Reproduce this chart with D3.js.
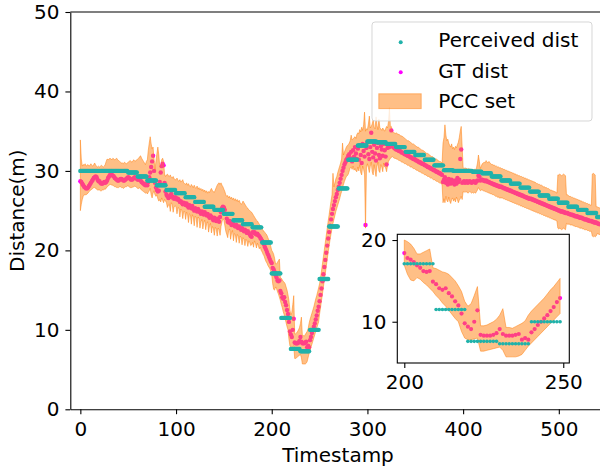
<!DOCTYPE html>
<html><head><meta charset="utf-8">
<script src="https://cdn.jsdelivr.net/npm/d3@7"></script>
<style>
body{margin:0;background:#fff}
svg{display:block}
text{font-family:"DejaVu Sans",sans-serif;fill:#000}
</style>
</head><body>
<svg id="c" width="600" height="468"></svg>
<script>
// Perceived distance: one value per block of 10 timestamps (0..549)
const perceivedSteps = [
30.0,30.0,30.0,30.0,30.0,29.8,29.3,28.8,28.2,27.6,
27.2,26.7,26.1,25.5,25.1,24.6,23.8,23.3,22.9,21.0,
17.1,11.5,7.6,7.3,10.0,16.4,23.0,27.8,31.4,33.2,
33.7,33.6,33.4,33.0,32.4,32.0,31.4,30.7,30.1,30.0,
30.0,29.9,29.7,29.3,28.8,28.4,27.9,27.4,26.9,26.5,
26.0,25.5,25.1,24.7,24.2];

// Ground-truth distance, one value per timestamp 0..549
const gtDist = [
28.7,28.6,28.4,28.2,28.0,27.9,27.8,27.8,27.9,28.1,
28.3,28.5,28.7,28.9,29.1,29.2,29.3,29.2,28.9,28.7,
28.7,28.5,28.4,28.4,28.5,28.6,28.5,28.6,28.8,29.1,
29.3,29.5,29.6,29.5,29.4,29.3,29.1,29.0,28.9,28.8,
28.8,28.9,29.0,29.0,28.9,28.8,28.8,28.9,29.0,29.1,
29.2,29.1,29.0,28.9,28.9,29.0,29.1,29.2,29.1,29.0,
28.9,28.9,29.0,28.8,28.6,28.5,28.4,28.3,28.2,28.4,
28.2,28.6,29.2,29.8,30.5,31.2,31.9,30.0,28.5,27.9,
27.6,27.4,27.5,28.6,29.8,30.6,30.9,30.7,28.5,27.4,
27.0,26.8,26.6,26.7,26.9,27.1,26.8,26.6,26.5,26.7,
26.6,26.4,26.5,26.3,26.1,26.2,26.0,25.8,26.0,25.9,
25.7,25.9,25.6,25.4,25.7,25.5,25.3,25.6,25.2,25.0,
25.3,25.1,24.9,25.2,25.0,24.8,24.6,24.9,24.7,24.5,
24.8,24.6,24.4,24.6,24.3,24.1,24.4,24.2,24.0,23.8,
24.1,23.9,23.7,24.0,23.8,23.6,24.2,24.8,25.3,25.5,
25.4,25.1,24.6,24.0,23.6,23.5,23.7,23.4,23.2,23.5,
23.3,23.1,23.0,23.2,23.0,22.8,23.0,22.8,22.6,22.8,
22.6,22.4,22.6,22.4,22.2,22.4,22.2,22.0,21.8,21.7,
22.3,22.2,22.3,22.1,22.0,22.1,21.9,21.8,21.6,21.4,
21.2,21.0,20.7,20.4,20.1,19.8,19.5,19.2,18.9,18.6,
18.4,17.8,17.6,17.3,16.9,16.6,16.2,16.1,16.2,14.9,
14.6,14.1,13.9,14.1,13.5,13.1,12.5,12.0,11.0,9.8,
9.4,9.1,10.0,11.4,8.4,8.3,8.3,8.3,8.4,8.6,
9.1,8.5,8.3,8.3,8.3,8.4,8.5,7.8,8.0,7.8,
8.7,9.1,9.6,10.0,10.4,10.8,11.3,11.8,12.4,12.9,
13.6,14.4,15.2,16.1,17.0,17.9,18.8,19.7,20.6,21.5,
22.3,23.1,23.9,24.6,25.2,25.7,26.2,26.7,27.1,27.6,
28.0,28.5,29.0,29.5,30.0,30.4,30.8,31.1,31.4,31.6,
31.9,32.1,31.6,32.4,31.2,32.6,31.8,33.0,32.2,31.5,
32.8,31.4,33.2,32.0,31.0,33.4,32.5,31.8,23.2,32.9,
33.6,32.1,31.5,33.0,34.8,32.4,31.7,33.3,32.2,31.3,
32.9,33.5,32.0,31.6,33.1,32.7,31.9,33.4,32.6,31.8,
30.8,32.9,33.2,33.0,33.3,35.1,33.1,33.0,32.9,32.8,
32.7,32.7,32.6,32.5,32.5,32.4,32.3,32.3,32.2,32.1,
32.1,32.0,31.9,31.9,31.8,31.7,31.7,31.6,31.5,31.5,
31.4,31.3,31.3,31.2,31.1,31.1,31.0,30.9,30.9,30.8,
30.7,30.7,30.6,30.5,30.5,30.4,30.3,30.3,30.2,30.1,
30.1,30.0,29.9,29.9,29.8,29.7,29.7,29.6,29.5,28.6,
28.9,29.2,28.5,28.8,28.3,29.0,28.6,28.4,28.9,28.5,
28.7,28.3,28.8,28.4,29.1,28.6,28.9,31.5,32.7,28.5,
28.6,28.7,28.5,28.6,28.7,28.5,28.6,28.7,28.6,28.5,
28.6,28.7,28.6,28.5,28.7,28.8,29.4,29.3,28.8,28.9,
28.9,28.8,28.8,28.7,28.8,28.7,28.6,28.6,28.5,28.5,
28.4,28.4,28.3,28.3,28.2,28.2,28.1,28.1,28.0,28.0,
28.0,27.9,27.9,27.8,27.8,27.7,27.7,27.6,27.6,27.5,
27.5,27.4,27.4,27.3,27.3,27.2,27.2,27.1,27.1,27.0,
27.0,26.9,26.9,26.8,26.8,26.7,26.7,26.6,26.6,26.5,
26.5,26.5,26.4,26.4,26.3,26.3,26.2,26.2,26.1,26.1,
26.0,26.0,25.9,25.9,25.8,25.8,25.7,25.7,25.6,25.6,
25.5,25.5,25.4,25.4,25.3,25.3,25.2,25.2,25.1,25.1,
25.0,25.0,24.9,24.9,24.9,24.8,24.8,24.7,24.7,24.7,
24.6,24.6,24.5,24.5,24.5,24.4,24.4,24.3,24.3,24.3,
24.2,24.2,24.1,24.1,24.1,24.0,24.0,23.9,23.9,23.9,
23.8,23.8,23.7,23.7,23.7,23.6,23.6,23.5,23.5,23.5,
23.4,23.4,23.3,23.3,23.3,23.2,23.2,23.1,23.1,23.1];

// PCC set upper bound, one value per timestamp 0..549
const pccHigh = [
33.9,31.5,30.6,30.8,30.7,30.9,30.6,30.7,30.8,30.6,
30.7,30.9,30.7,30.6,30.8,31.0,30.7,30.6,30.5,30.6,
30.5,30.6,30.7,30.6,30.5,30.6,30.8,31.2,31.5,31.4,
31.5,31.6,31.5,31.4,31.6,31.5,31.4,31.5,31.6,31.4,
31.3,31.2,31.1,31.0,31.0,30.9,31.1,31.0,30.9,31.0,
31.1,31.2,31.3,31.2,31.1,31.3,31.4,31.2,31.3,31.4,
31.5,31.6,31.8,31.9,31.6,31.4,31.2,31.0,30.8,31.2,
31.4,32.6,33.5,34.3,33.4,32.8,33.0,31.5,30.2,31.2,
32.2,33.0,32.0,30.5,30.6,31.4,31.6,31.2,29.6,29.3,
29.5,29.6,29.4,29.3,29.5,29.2,29.1,29.3,29.0,28.9,
28.9,29.1,28.8,28.7,28.9,28.6,28.7,28.9,28.5,28.4,
28.3,28.5,28.2,28.4,28.1,28.0,28.3,28.1,27.9,28.2,
27.9,27.8,28.1,27.7,27.9,27.6,27.8,27.5,27.7,27.4,
27.6,27.3,27.5,27.2,27.4,27.3,27.6,27.8,27.5,27.4,
27.3,27.6,27.9,28.2,28.4,28.5,28.3,28.5,28.2,28.0,
27.7,27.4,27.0,26.8,26.9,26.6,26.8,26.5,26.7,26.4,
26.6,26.3,26.5,26.2,26.4,26.1,26.3,26.0,25.8,25.9,
26.2,26.0,25.8,25.6,25.4,25.3,25.1,25.0,24.9,24.8,
24.6,24.4,24.2,24.0,23.8,23.7,23.5,23.3,23.1,22.9,
22.7,22.5,22.4,22.2,22.1,21.9,21.6,21.3,20.9,20.5,
20.0,19.8,19.5,19.0,18.3,18.3,18.5,18.7,18.9,16.6,
16.5,16.3,16.1,16.0,15.8,15.4,15.0,14.4,13.7,12.5,
11.9,12.2,13.2,14.3,9.5,9.5,9.6,9.8,10.0,10.3,
10.8,11.6,9.3,9.3,9.2,9.4,9.6,9.8,10.1,10.8,
11.3,11.7,12.1,12.5,12.9,13.4,13.9,14.3,14.8,15.3,
15.8,16.6,17.4,18.3,19.2,20.1,21.0,21.9,22.8,23.7,
24.5,25.4,26.2,27.0,29.7,28.0,28.5,29.0,29.3,29.8,
30.2,30.6,31.0,31.5,33.5,32.0,32.4,32.7,33.0,33.2,
33.3,33.5,33.8,34.5,33.9,34.0,34.2,34.3,34.1,34.6,
34.8,34.7,35.2,34.9,35.5,35.1,35.8,37.4,35.0,35.3,
35.2,35.9,36.9,35.4,35.6,35.9,36.4,35.5,35.3,36.8,
35.7,35.2,36.5,35.4,35.3,35.1,35.4,35.2,35.0,35.3,
35.6,35.4,36.2,38.0,35.5,35.6,35.0,34.9,34.8,34.7,
34.8,34.7,34.6,34.6,34.5,34.4,34.4,34.3,34.2,34.1,
34.0,33.9,33.8,33.8,33.7,33.6,33.5,33.4,33.4,33.3,
33.2,33.1,33.0,33.0,32.9,32.8,32.7,32.6,32.6,32.5,
32.4,32.3,32.2,32.2,32.1,32.0,31.9,31.8,31.8,31.7,
31.6,31.5,31.5,31.4,31.3,31.2,31.2,31.1,31.0,33.5,
34.2,35.8,34.5,33.8,34.0,33.5,33.2,33.0,33.4,32.8,
33.0,32.7,33.1,32.9,33.3,33.6,34.2,35.0,35.6,33.0,
30.4,30.3,30.4,30.3,30.3,30.2,30.3,30.2,30.2,30.1,
30.2,30.1,30.2,30.1,30.4,31.0,32.0,31.2,30.3,30.6,
30.9,31.0,31.1,31.0,31.3,31.1,31.0,31.2,31.0,30.9,
30.8,30.8,30.7,30.7,30.6,30.6,30.5,30.5,30.4,30.4,
30.3,30.3,30.2,30.2,30.1,30.1,30.0,30.0,29.9,29.9,
29.8,29.8,29.7,29.7,29.6,29.6,29.5,29.5,29.4,29.4,
29.3,29.3,29.2,29.2,29.1,29.1,29.0,29.0,28.9,28.9,
28.8,28.8,28.7,28.7,28.6,28.6,28.5,28.4,28.4,28.3,
28.3,28.2,28.2,28.1,28.0,28.0,27.9,27.9,27.8,27.8,
27.7,27.6,27.6,27.5,27.5,27.4,27.4,27.3,27.2,29.5,
29.5,29.6,29.5,29.4,29.5,29.6,29.5,29.4,27.0,27.0,
26.9,26.8,26.8,26.7,26.7,26.6,26.6,26.5,26.5,26.4,
26.4,26.3,26.3,26.2,26.2,26.1,26.1,26.0,26.0,25.9,
25.9,25.8,25.8,25.7,25.7,29.6,29.7,29.6,29.5,25.5,
25.5,25.4,25.4,25.3,25.3,25.2,25.2,25.1,25.1,25.0];

// PCC set lower bound, one value per timestamp 0..549
const pccLow = [
25.0,25.8,26.4,26.8,27.0,27.0,27.0,27.1,27.2,27.4,
27.5,27.6,27.7,27.8,27.9,27.9,27.8,27.7,27.6,27.6,
27.6,27.5,27.5,27.6,27.6,27.7,27.7,27.8,28.0,28.1,
28.2,28.3,28.3,28.2,28.2,28.1,28.0,28.0,27.9,27.9,
27.9,28.0,28.0,27.9,27.9,27.8,27.9,28.0,28.0,28.1,
28.1,28.0,27.9,27.9,27.9,28.0,28.0,28.1,28.0,27.9,
27.8,27.8,27.9,27.7,27.6,27.5,27.4,27.3,27.2,27.3,
27.1,27.3,27.5,27.8,27.0,26.6,27.2,27.5,27.0,26.8,
27.0,26.5,26.2,26.4,26.1,26.6,26.3,26.0,26.4,26.2,
26.0,25.4,25.7,25.8,24.9,26.0,25.8,24.8,25.5,25.6,
25.5,24.6,25.4,25.3,24.2,25.2,25.0,24.0,24.9,24.9,
23.9,24.8,24.6,23.5,24.6,24.5,23.3,24.5,24.2,23.1,
24.3,24.1,22.9,24.2,24.0,22.8,23.6,23.9,22.7,23.5,
23.8,22.6,23.4,23.6,22.3,23.1,23.4,22.2,23.0,22.8,
21.9,22.9,22.7,21.8,22.8,22.6,21.9,23.0,23.6,24.0,
23.8,23.1,22.4,22.0,21.6,22.5,22.7,21.4,22.2,22.5,
21.2,22.1,22.0,21.0,22.0,21.8,20.9,21.8,21.6,20.7,
21.6,21.4,20.6,21.4,21.2,20.5,21.2,21.0,20.6,20.7,
21.0,20.4,21.2,20.9,20.3,20.9,20.6,20.2,20.4,20.0,
19.8,19.5,19.3,18.9,18.6,18.4,18.1,17.9,17.7,17.4,
16.9,15.8,15.1,15.0,15.4,15.2,14.8,14.5,14.1,13.7,
13.2,12.8,12.3,11.9,11.4,10.9,10.4,10.0,8.8,8.0,
7.8,7.8,7.9,8.0,6.4,6.4,6.5,6.6,6.7,6.8,
6.9,6.5,5.7,5.7,5.7,5.7,5.8,6.0,6.5,7.0,
7.4,7.8,8.2,8.6,9.0,9.4,9.8,10.2,10.6,11.0,
12.0,12.8,13.7,14.5,15.4,16.3,17.1,18.0,18.9,19.8,
20.6,21.4,22.1,22.8,23.4,23.9,24.4,24.9,25.3,25.7,
26.1,26.5,27.0,27.4,27.9,28.3,28.7,29.0,29.3,29.4,
29.6,30.0,30.4,30.5,30.2,30.6,30.1,30.3,30.0,29.9,
30.5,30.0,30.8,29.8,29.5,30.6,30.2,29.6,22.8,30.4,
30.9,30.4,29.8,30.6,31.1,29.9,29.5,30.8,30.0,29.3,
30.6,31.1,30.0,29.8,30.8,30.5,29.9,31.0,30.5,30.4,
29.9,30.7,31.2,31.4,31.6,31.7,31.8,31.7,31.6,31.6,
31.5,31.5,31.4,31.3,31.3,31.2,31.1,31.1,31.0,30.9,
30.9,30.8,30.7,30.7,30.6,30.5,30.5,30.4,30.3,30.3,
30.2,30.1,30.1,30.0,29.9,29.9,29.8,29.7,29.7,29.6,
29.5,29.5,29.4,29.3,29.3,29.2,29.1,29.1,29.0,28.9,
28.9,28.8,28.7,28.7,28.6,28.5,28.5,28.4,28.3,26.0,
26.5,26.0,26.8,26.3,26.1,26.7,26.2,25.9,26.4,26.6,
26.2,26.5,26.1,26.7,26.4,26.0,26.3,26.5,26.8,26.4,
27.4,27.3,27.4,27.3,27.4,27.2,27.3,27.4,27.3,27.2,
27.3,27.2,27.3,27.2,27.4,27.6,27.9,27.7,27.5,27.6,
27.6,27.5,27.5,27.4,27.4,27.3,27.3,27.2,27.2,27.1,
27.1,27.0,27.0,26.9,26.8,26.8,26.7,26.7,26.6,26.6,
26.6,26.6,26.5,26.5,26.4,26.4,26.3,26.3,26.2,26.2,
26.1,26.1,26.0,26.0,25.9,25.9,25.8,25.8,25.7,25.7,
25.6,25.6,25.5,25.5,25.4,25.4,25.3,25.3,25.2,25.2,
25.1,25.1,25.0,25.0,24.9,24.9,24.8,24.8,24.7,24.7,
24.6,24.6,24.5,24.5,24.4,24.4,24.3,24.3,24.2,24.2,
24.1,24.1,24.0,24.0,23.9,23.9,23.8,23.8,23.7,22.8,
22.7,22.8,22.7,22.6,22.7,22.8,22.7,22.6,23.4,23.3,
23.3,23.3,23.2,23.2,23.2,23.1,23.1,23.0,23.0,23.0,
22.9,22.9,22.8,22.8,22.8,22.7,22.7,22.6,22.6,22.6,
22.5,22.5,22.4,22.4,22.4,21.8,21.7,21.8,21.7,21.8,
22.1,22.1,22.0,22.0,22.0,21.9,21.9,21.8,21.8,21.8];

const xTicks = [0, 100, 200, 300, 400, 500];
const yTicks = [0, 10, 20, 30, 40, 50];
const insetXTicks = [200, 250];
const insetYTicks = [10, 20];
const insetSpan = [200, 249];
const seriesNames = ["Perceived dist", "GT dist", "PCC set"];
const xLabel = "Timestamp";
const yLabel = "Distance(m)";

// ---------- build records ----------
const rows = gtDist.map((g, i) => ({
  t: i,
  gt: g,
  per: perceivedSteps[Math.floor(i / 10)],
  lo: pccLow[i],
  hi: pccHigh[i]
}));

const TEAL = "#20b2aa", MAG = "#ff00ff";
const BAND = "rgba(255,127,14,0.5)";
const FONT = 20;

const svg = d3.select("#c");
const P = {l: 70.3, r: 605.7, t: 12, b: 409.3};
const x = d3.scaleLinear().domain([-10.5, 549]).range([P.l, P.r]);
const y = d3.scaleLinear().domain([0, 50]).range([P.b, P.t]);

const defs = svg.append("defs");
defs.append("clipPath").attr("id", "clipMain").append("rect")
  .attr("x", P.l).attr("y", P.t).attr("width", P.r - P.l).attr("height", P.b - P.t);

function drawSeries(g, data, xs, ys, rTeal, rGT) {
  g.append("g").selectAll("circle").data(data).join("circle")
    .attr("cx", d => xs(d.t)).attr("cy", d => ys(d.gt)).attr("r", rGT).attr("fill", MAG);
  const area = d3.area().x(d => xs(d.t)).y0(d => ys(d.lo)).y1(d => ys(d.hi));
  g.append("path").datum(data).attr("d", area)
    .attr("fill", BAND).attr("stroke", BAND).attr("stroke-width", 1).attr("stroke-linejoin", "miter");
  g.append("g").selectAll("circle").data(data).join("circle")
    .attr("cx", d => xs(d.t)).attr("cy", d => ys(d.per)).attr("r", rTeal).attr("fill", TEAL);
}

const main = svg.append("g").attr("clip-path", "url(#clipMain)");
drawSeries(main, rows, x, y, 2.2, 2.2);

function styleAxis(g) {
  g.selectAll("path.domain").attr("stroke", "#000").attr("stroke-width", 1.1);
  g.selectAll(".tick line").attr("stroke", "#000").attr("stroke-width", 1.1);
  g.selectAll(".tick text").attr("font-size", FONT).attr("font-family", "DejaVu Sans").attr("fill", "#000");
}

const gx = svg.append("g").attr("transform", `translate(0,${P.b})`)
  .call(d3.axisBottom(x).tickValues(xTicks).tickFormat(d3.format("d")).tickSize(4.9).tickSizeOuter(0).tickPadding(8));
styleAxis(gx);
const gy = svg.append("g").attr("transform", `translate(${P.l},0)`)
  .call(d3.axisLeft(y).tickValues(yTicks).tickFormat(d3.format("d")).tickSize(4.9).tickSizeOuter(0).tickPadding(6));
styleAxis(gy);
// top spine
svg.append("line").attr("x1", P.l).attr("x2", P.r).attr("y1", P.t).attr("y2", P.t)
  .attr("stroke", "#000").attr("stroke-width", 1.1);

svg.append("text").attr("x", (P.l + P.r) / 2).attr("y", 462).attr("text-anchor", "middle")
  .attr("font-size", FONT).text(xLabel);
svg.append("text").attr("transform", `translate(24.3,${(P.t + P.b) / 2}) rotate(-90)`)
  .attr("text-anchor", "middle").attr("font-size", FONT).text(yLabel);

// ---------- legend ----------
const lg = svg.append("g");
lg.append("rect").attr("x", 372).attr("y", 22).attr("width", 220).attr("height", 99).attr("rx", 3)
  .attr("fill", "rgba(255,255,255,0.8)").attr("stroke", "rgba(204,204,204,0.8)").attr("stroke-width", 1);
const legRows = [47, 78, 108.3];
lg.append("circle").attr("cx", 400.7).attr("cy", 42.3).attr("r", 2).attr("fill", TEAL);
lg.append("circle").attr("cx", 400.7).attr("cy", 72.3).attr("r", 2).attr("fill", MAG);
lg.append("rect").attr("x", 378.8).attr("y", 93.8).attr("width", 42.4).attr("height", 14.8)
  .attr("fill", BAND).attr("stroke", BAND).attr("stroke-width", 1);
seriesNames.forEach((n, i) => {
  lg.append("text").attr("x", 438.3).attr("y", legRows[i]).attr("font-size", FONT).text(n);
});

// ---------- inset ----------
const I = {l: 397.3, r: 569.3, t: 234.3, b: 363};
const xi = d3.scaleLinear().domain([197.8, 251.9]).range([I.l, I.r]);
const yi = d3.scaleLinear().domain([4.95, 20.7]).range([I.b, I.t]);
defs.append("clipPath").attr("id", "clipInset").append("rect")
  .attr("x", I.l).attr("y", I.t).attr("width", I.r - I.l).attr("height", I.b - I.t);
svg.append("rect").attr("x", I.l).attr("y", I.t).attr("width", I.r - I.l).attr("height", I.b - I.t)
  .attr("fill", "#fff");
const inset = svg.append("g").attr("clip-path", "url(#clipInset)");
drawSeries(inset, rows.filter(d => d.t >= insetSpan[0] && d.t <= insetSpan[1]), xi, yi, 1.8, 2.1);
svg.append("rect").attr("x", I.l).attr("y", I.t).attr("width", I.r - I.l).attr("height", I.b - I.t)
  .attr("fill", "none").attr("stroke", "#000").attr("stroke-width", 1.1);
const gxi = svg.append("g").attr("transform", `translate(0,${I.b})`)
  .call(d3.axisBottom(xi).tickValues(insetXTicks).tickFormat(d3.format("d")).tickSize(4.9).tickSizeOuter(0).tickPadding(7));
styleAxis(gxi); gxi.select("path.domain").remove();
const gyi = svg.append("g").attr("transform", `translate(${I.l},0)`)
  .call(d3.axisLeft(yi).tickValues(insetYTicks).tickFormat(d3.format("d")).tickSize(4.9).tickSizeOuter(0).tickPadding(6));
styleAxis(gyi); gyi.select("path.domain").remove();
</script>
</body></html>
